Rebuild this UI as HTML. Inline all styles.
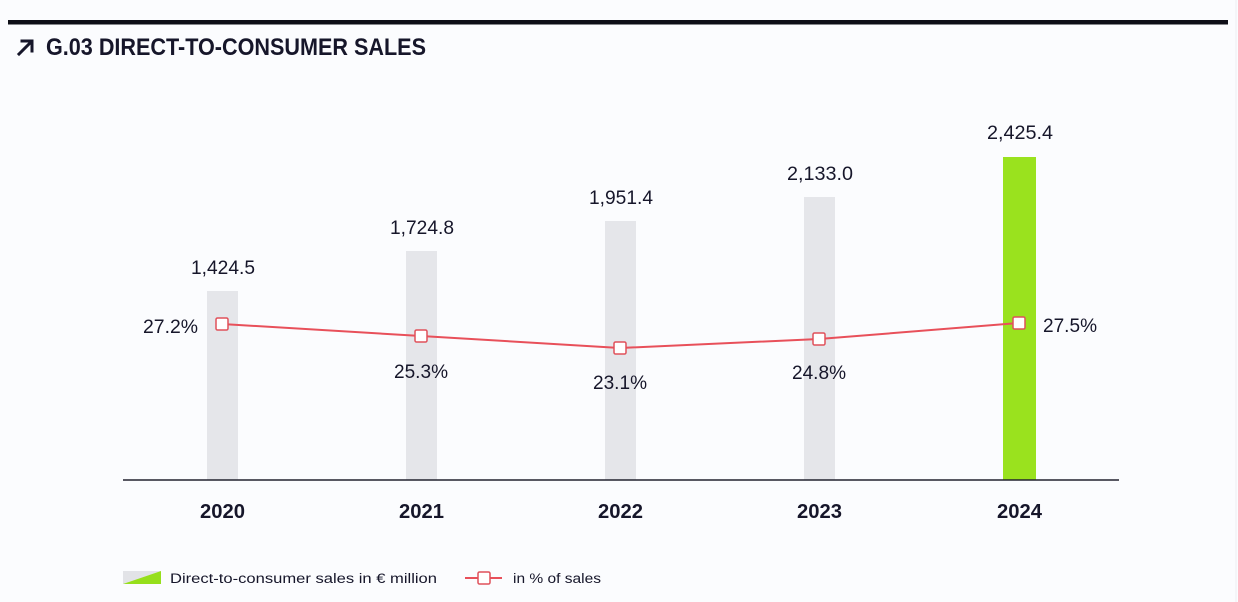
<!DOCTYPE html>
<html><head><meta charset="utf-8"><style>
html,body{margin:0;padding:0;background:#fbfcfe;}
svg{display:block;}
text{font-family:"Liberation Sans",sans-serif;fill:#16162a;}
</style></head><body>
<svg width="1238" height="602" viewBox="0 0 1238 602" xmlns="http://www.w3.org/2000/svg">
<rect x="0" y="0" width="1238" height="602" fill="#fbfcfe"/>
<line x1="1236" y1="0" x2="1236" y2="602" stroke="#eceef2" stroke-width="1"/>
<rect x="8" y="20" width="1220" height="4.5" fill="#0e0f17"/>
<!-- arrow -->
<g stroke="#16162a" stroke-width="3" fill="none" stroke-linecap="square">
<line x1="19" y1="54" x2="31" y2="42"/>
<polyline points="22,41 32,41 32,51"/>
</g>
<text x="46" y="55" font-size="24" font-weight="bold" textLength="380" lengthAdjust="spacingAndGlyphs">G.03 DIRECT-TO-CONSUMER SALES</text>

<!-- bars -->
<rect x="207" y="291" width="31" height="189" fill="#e5e6ea"/>
<rect x="406" y="251" width="31" height="229" fill="#e5e6ea"/>
<rect x="605" y="221" width="31" height="259" fill="#e5e6ea"/>
<rect x="804" y="197" width="31" height="283" fill="#e5e6ea"/>
<rect x="1003" y="157" width="33" height="323" fill="#9ae21e"/>

<!-- axis -->
<line x1="123" y1="480" x2="1119" y2="480" stroke="#22222e" stroke-width="1.5"/>

<!-- value labels -->
<g font-size="19" text-anchor="middle">
<text x="223" y="274" textLength="64" lengthAdjust="spacingAndGlyphs">1,424.5</text>
<text x="422" y="234" textLength="64" lengthAdjust="spacingAndGlyphs">1,724.8</text>
<text x="621" y="204" textLength="64" lengthAdjust="spacingAndGlyphs">1,951.4</text>
<text x="820" y="180" textLength="66" lengthAdjust="spacingAndGlyphs">2,133.0</text>
<text x="1020" y="139" textLength="66" lengthAdjust="spacingAndGlyphs">2,425.4</text>
</g>

<!-- line -->
<polyline points="222,324 421,336 620,348 819,339 1019,323" fill="none" stroke="#e8505a" stroke-width="2"/>
<g fill="#ffffff" stroke="#e0505a" stroke-width="1.5">
<rect x="216" y="318" width="12" height="12" rx="1.5"/>
<rect x="415" y="330" width="12" height="12" rx="1.5"/>
<rect x="614" y="342" width="12" height="12" rx="1.5"/>
<rect x="813" y="333" width="12" height="12" rx="1.5"/>
<rect x="1013" y="317" width="12" height="12" rx="1.5"/>
</g>

<!-- percent labels -->
<g font-size="19">
<text x="143" y="333" textLength="55" lengthAdjust="spacingAndGlyphs">27.2%</text>
<text x="394" y="378" textLength="54" lengthAdjust="spacingAndGlyphs">25.3%</text>
<text x="593" y="389" textLength="54" lengthAdjust="spacingAndGlyphs">23.1%</text>
<text x="792" y="379" textLength="54" lengthAdjust="spacingAndGlyphs">24.8%</text>
<text x="1043" y="332" textLength="54" lengthAdjust="spacingAndGlyphs">27.5%</text>
</g>

<!-- years -->
<g font-size="20" font-weight="bold" text-anchor="middle">
<text x="222.5" y="518" textLength="45" lengthAdjust="spacingAndGlyphs">2020</text>
<text x="421.5" y="518" textLength="45" lengthAdjust="spacingAndGlyphs">2021</text>
<text x="620.5" y="518" textLength="45" lengthAdjust="spacingAndGlyphs">2022</text>
<text x="819.5" y="518" textLength="45" lengthAdjust="spacingAndGlyphs">2023</text>
<text x="1019.5" y="518" textLength="45" lengthAdjust="spacingAndGlyphs">2024</text>
</g>

<!-- legend -->
<polygon points="123,571 161,571 123,584" fill="#e2e3e7"/>
<polygon points="161,571 161,584 123,584" fill="#96df1c"/>
<text x="170" y="583" font-size="13.5" textLength="267" lengthAdjust="spacingAndGlyphs">Direct-to-consumer sales in € million</text>
<line x1="465" y1="578" x2="502" y2="578" stroke="#e8505a" stroke-width="2"/>
<rect x="478" y="572" width="12" height="12" rx="1.5" fill="#ffffff" stroke="#e0505a" stroke-width="1.5"/>
<text x="513" y="583" font-size="13.5" textLength="88" lengthAdjust="spacingAndGlyphs">in % of sales</text>
</svg>
</body></html>
